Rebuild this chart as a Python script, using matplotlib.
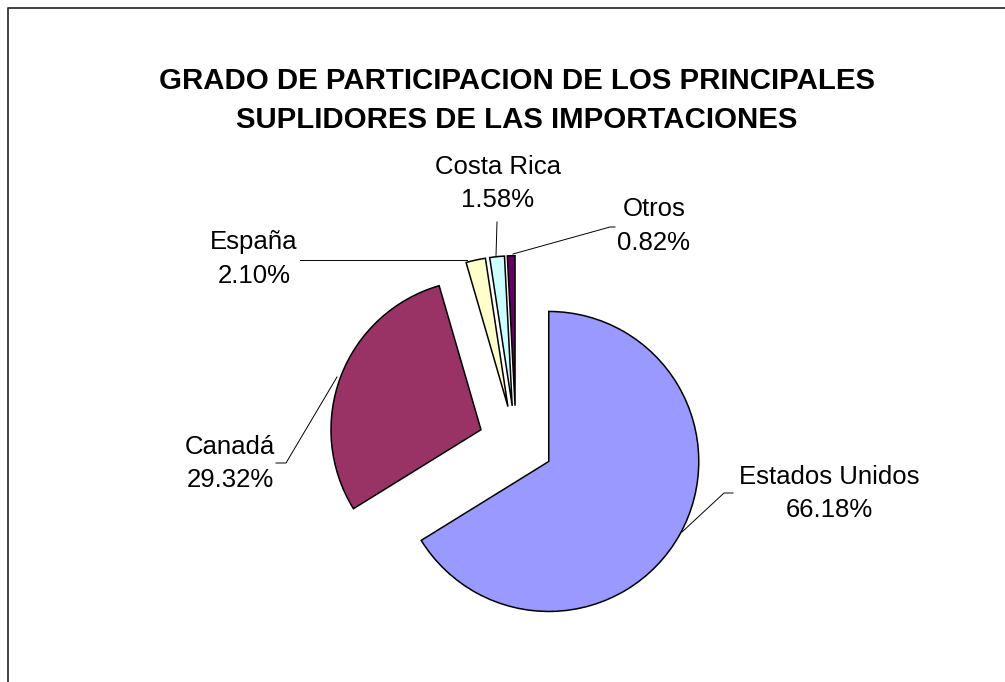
import matplotlib.pyplot as plt

plt.rcParams["font.family"] = ["Liberation Sans", "DejaVu Sans"]

TITLE = "GRADO DE PARTICIPACION DE LOS PRINCIPALES\nSUPLIDORES DE LAS IMPORTACIONES"
SUPPLIERS = ["Estados Unidos", "Canadá", "España", "Costa Rica", "Otros"]
SHARES = [66.18, 29.32, 2.10, 1.58, 0.82]
COLORS = ["#9999FF", "#993366", "#FFFFCC", "#CCFFFF", "#660066"]

# label placement in pixel coords (x centre, baseline of last line) and leader polylines
LABEL_POS = {
    "Estados Unidos": (829, 517),
    "Canadá": (230, 487),
    "España": (254, 283),
    "Costa Rica": (498, 207),
    "Otros": (654, 250),
}
LEADERS = {
    "Estados Unidos": [(682, 532), (724, 493), (733, 493)],
    "Canadá": [(337, 377), (286, 463), (276, 463)],
    "España": [(300, 260), (467, 260)],
    "Costa Rica": [(497, 222), (496, 256)],
    "Otros": [(513, 254), (610, 227), (615, 227)],
}

W, H = 1005, 682
fig = plt.figure(figsize=(W / 100, H / 100), dpi=100)
fig.patch.set_facecolor("white")

# overlay in pixel coordinates (y down)
ov = fig.add_axes([0, 0, 1, 1])
ov.set_xlim(0, W)
ov.set_ylim(H, 0)
ov.set_axis_off()
ov.plot([7.5, 7.5, W], [H, 7.5, 7.5], color="#333333", linewidth=1.3, solid_capstyle="butt")
ov.text(517, 128, TITLE, ha="center", va="baseline", fontsize=21.2, fontweight="bold",
        linespacing=1.5, multialignment="center")

for name, share in zip(SUPPLIERS, SHARES):
    x, y = LABEL_POS[name]
    ov.text(x, y, f"{name}\n{share:.2f}%", ha="center", va="baseline", fontsize=18.5,
            multialignment="center", linespacing=1.5)
    pts = LEADERS[name]
    ov.plot([p[0] for p in pts], [p[1] for p in pts], color="black", linewidth=0.7)

# pie axes: centre at (516, 443) px, radius 150 px
cx, cy, r = 516, 443.2, 150
half = 1.6 * r
pie_ax = fig.add_axes([(cx - half) / W, (H - cy - half) / H, 2 * half / W, 2 * half / H])
pie_ax.pie(SHARES, colors=COLORS, startangle=90, counterclock=False,
           explode=[0.25] * len(SHARES), radius=1.0,
           wedgeprops=dict(edgecolor="black", linewidth=1.1))
pie_ax.set_xlim(-1.6, 1.6)
pie_ax.set_ylim(-1.6, 1.6)
pie_ax.set_axis_off()
pie_ax.patch.set_visible(False)

fig.savefig("out.png", dpi=100)
